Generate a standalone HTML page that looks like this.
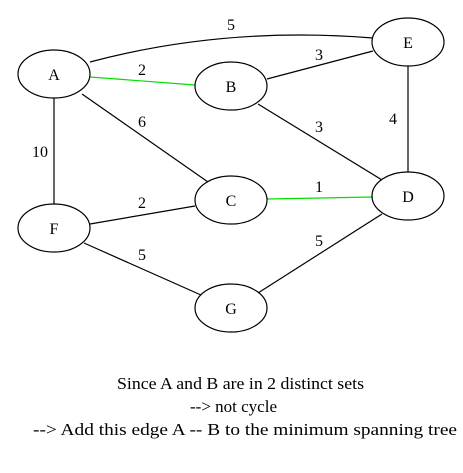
<!DOCTYPE html>
<html><head><style>body{margin:0;background:#fff}svg{display:block}</style></head><body>
<svg width="463" height="473" xmlns="http://www.w3.org/2000/svg" font-family="Liberation Serif, serif" font-size="16">
<g fill="none" stroke="#000" stroke-width="1.2">
<path d="M90,62 Q225,26 373,38"/>
<line x1="267" y1="79" x2="373" y2="51"/>
<line x1="82" y1="94" x2="208" y2="182"/>
<line x1="258" y1="104" x2="382" y2="180"/>
<line x1="408" y1="66" x2="408" y2="172"/>
<line x1="54" y1="98" x2="54" y2="204"/>
<line x1="90" y1="224" x2="195" y2="206"/>
<line x1="84" y1="243" x2="201" y2="295"/>
<line x1="258" y1="293" x2="382" y2="214"/>
<line x1="90" y1="77" x2="195" y2="85" stroke="#00e000"/>
<line x1="267" y1="199" x2="373" y2="197" stroke="#00e000"/>
<ellipse cx="54" cy="74" rx="36" ry="24"/>
<ellipse cx="231" cy="86" rx="36" ry="24"/>
<ellipse cx="408" cy="42" rx="36" ry="24"/>
<ellipse cx="231" cy="200" rx="36" ry="24"/>
<ellipse cx="408" cy="196" rx="36" ry="24"/>
<ellipse cx="54" cy="228" rx="36" ry="24"/>
<ellipse cx="231" cy="308" rx="36" ry="24"/>
</g>
<g text-anchor="middle">
<text x="54" y="80">A</text><text x="231" y="92">B</text><text x="408" y="48">E</text>
<text x="231" y="206">C</text><text x="408" y="202">D</text><text x="54" y="234">F</text><text x="231" y="314">G</text>
<text x="231" y="30">5</text><text x="142" y="75">2</text><text x="319" y="60">3</text>
<text x="142" y="127">6</text><text x="319" y="132">3</text><text x="393" y="124">4</text>
<text x="40" y="157">10</text><text x="319" y="192">1</text><text x="142" y="208">2</text>
<text x="142" y="260">5</text><text x="319" y="246">5</text>
</g>
<g font-size="17">
<text x="117" y="389" textLength="247" lengthAdjust="spacingAndGlyphs">Since A and B are in 2 distinct sets</text>
<text x="190" y="412">--&gt; not cycle</text>
<text x="33" y="435" textLength="424" lengthAdjust="spacingAndGlyphs">--&gt; Add this edge A -- B to the minimum spanning tree</text>
</g>
</svg>
</body></html>
